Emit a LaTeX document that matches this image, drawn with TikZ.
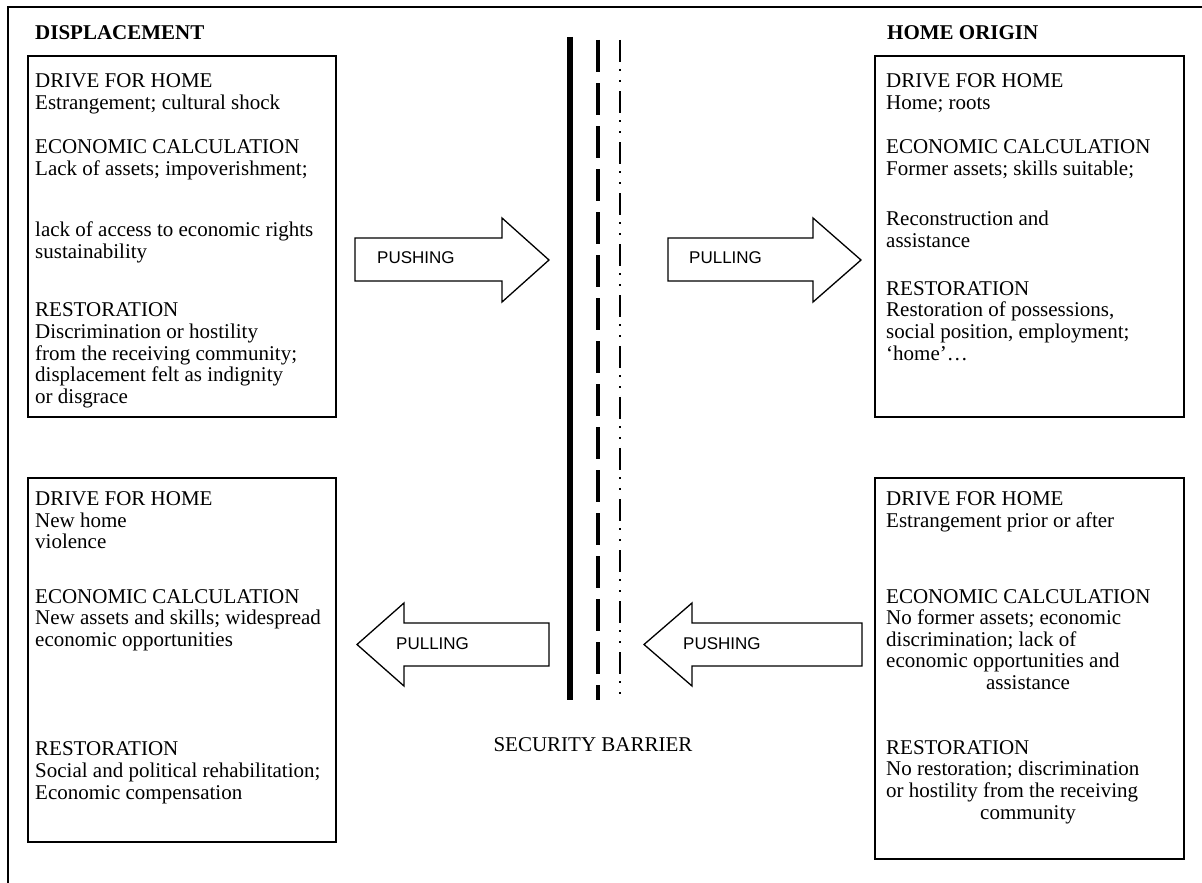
\documentclass[tikz,border=0pt]{standalone}
\usepackage{fontspec}
\setmainfont{Liberation Serif}
\newfontfamily\arialfont{Liberation Sans}
\begin{document}
\begin{tikzpicture}[x=1pt,y=-1pt,
  frameline/.style={line width=2pt},
  box/.style={draw, line width=2pt, inner sep=0pt, anchor=north west},
  txt/.style={font=\fontsize{21}{22}\selectfont, inner sep=0pt, anchor=base west},
  ctxt/.style={font=\fontsize{21}{22}\selectfont, inner sep=0pt, anchor=base},
  headtxt/.style={font=\bfseries\fontsize{21}{22}\selectfont, inner sep=0pt, anchor=base west},
  blockarrow/.style={draw, line width=1.3pt, fill=white, line join=miter},
  arrowlabel/.style={font=\arialfont\fontsize{17}{18}\selectfont, inner sep=0pt, anchor=base west},
  solidbar/.style={line width=6pt},
  dashbar/.style={line width=4pt, dash pattern=on 32pt off 11pt},
  dotbar/.style={line width=2pt, dash pattern=on 22pt off 7pt on 2pt off 9pt on 2pt off 9pt}
]
\useasboundingbox (0,0) rectangle (1202,883);
% outer frame (top and left only visible)
\coordinate (fbl) at (8,884);
\coordinate (ftl) at (8,7);
\coordinate (ftr) at (1203,7);
\draw[frameline] (fbl) -- (ftl) -- (ftr);

% headings
\node[headtxt] (hdisp) at (35,40) {DISPLACEMENT};
\node[headtxt] (hhome) at (887,40) {HOME ORIGIN};

% boxes
\node[box, minimum width=308pt, minimum height=361pt] (tl) at (27,55) {};
\node[box, minimum width=309pt, minimum height=361pt] (tr) at (874,55) {};
\node[box, minimum width=308pt, minimum height=364pt] (bl) at (27,477) {};
\node[box, minimum width=309pt, minimum height=381pt] (br) at (874,477) {};

% top-left text
\node[txt] (tl1) at (35,88) {DRIVE FOR HOME};
\node[txt] (tl2) at (35,110) {Estrangement; cultural shock};
\node[txt] (tl3) at (35,153) {ECONOMIC CALCULATION};
\node[txt] (tl4) at (35,175) {Lack of assets; impoverishment;};
\node[txt] (tl5) at (35,236) {lack of access to economic rights};
\node[txt] (tl6) at (35,258) {sustainability};
\node[txt] (tl7) at (35,316) {RESTORATION};
\node[txt] (tl8) at (35,338) {Discrimination or hostility};
\node[txt] (tl9) at (35,360) {from the receiving community;};
\node[txt] (tl10) at (35,381) {displacement felt as indignity};
\node[txt] (tl11) at (35,403) {or disgrace};

% top-right text
\node[txt] (tr1) at (886,88) {DRIVE FOR HOME};
\node[txt] (tr2) at (886,110) {Home; roots};
\node[txt] (tr3) at (886,153) {ECONOMIC CALCULATION};
\node[txt] (tr4) at (886,175) {Former assets; skills suitable;};
\node[txt] (tr5) at (886,225) {Reconstruction and};
\node[txt] (tr6) at (886,247) {assistance};
\node[txt] (tr7) at (886,295) {RESTORATION};
\node[txt] (tr8) at (886,316) {Restoration of possessions,};
\node[txt] (tr9) at (886,338) {social position, employment;};
\node[txt] (tr10) at (886,360) {‘home’…};

% bottom-left text
\node[txt] (bl1) at (35,505) {DRIVE FOR HOME};
\node[txt] (bl2) at (35,527) {New home};
\node[txt] (bl3) at (35,548) {violence};
\node[txt] (bl4) at (35,603) {ECONOMIC CALCULATION};
\node[txt] (bl5) at (35,624) {New assets and skills; widespread};
\node[txt] (bl6) at (35,646) {economic opportunities};
\node[txt] (bl7) at (35,755) {RESTORATION};
\node[txt] (bl8) at (35,777) {Social and political rehabilitation;};
\node[txt] (bl9) at (35,799) {Economic compensation};

% bottom-right text
\node[txt] (br1) at (886,505) {DRIVE FOR HOME};
\node[txt] (br2) at (886,527) {Estrangement prior or after};
\node[txt] (br3) at (886,603) {ECONOMIC CALCULATION};
\node[txt] (br4) at (886,624) {No former assets; economic};
\node[txt] (br5) at (886,646) {discrimination; lack of};
\node[txt] (br6) at (886,667) {economic opportunities and};
\node[ctxt] (br7) at (1028,689) {assistance};
\node[txt] (br8) at (886,754) {RESTORATION};
\node[txt] (br9) at (886,775) {No restoration; discrimination};
\node[txt] (br10) at (886,797) {or hostility from the receiving};
\node[ctxt] (br11) at (1028,819) {community};

% security barrier
\draw[solidbar] (570,37) -- (570,700);
\draw[dashbar] (598,40) -- (598,700);
\draw[dotbar] (620,40) -- (620,700);
\node[ctxt] (sb) at (593,751) {SECURITY BARRIER};

% block arrows
\draw[blockarrow] (355,238) -- (502,238) -- (502,218) -- (549,260) -- (502,302) -- (502,281) -- (355,281) -- cycle;
\node[arrowlabel] (a1) at (377,263) {PUSHING};
\draw[blockarrow] (668,238) -- (813,238) -- (813,218) -- (861,260) -- (813,302) -- (813,281) -- (668,281) -- cycle;
\node[arrowlabel] (a2) at (689,263) {PULLING};
\draw[blockarrow] (549,623) -- (404,623) -- (404,603) -- (357,644.5) -- (404,686) -- (404,666) -- (549,666) -- cycle;
\node[arrowlabel] (a3) at (396,649) {PULLING};
\draw[blockarrow] (862,623) -- (692,623) -- (692,603) -- (644,644.5) -- (692,686) -- (692,666) -- (862,666) -- cycle;
\node[arrowlabel] (a4) at (683,649) {PUSHING};
\end{tikzpicture}
\end{document}
